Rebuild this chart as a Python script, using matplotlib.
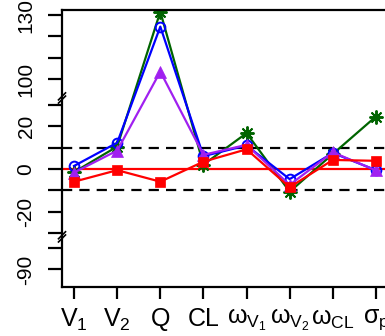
import numpy as np
import matplotlib
matplotlib.use("Agg")
import matplotlib.pyplot as plt
from matplotlib.lines import Line2D

plt.rcParams['font.family'] = ['Liberation Sans', 'DejaVu Sans']
plt.rcParams['mathtext.fontset'] = 'custom'
plt.rcParams['mathtext.rm'] = 'Liberation Sans'
plt.rcParams['mathtext.it'] = 'Liberation Sans'
plt.rcParams['mathtext.default'] = 'regular'

# Parameters on the x axis
params = [r'$V_1$', r'$V_2$', 'Q', 'CL', r'$\omega_{V_1}$', r'$\omega_{V_2}$',
          r'$\omega_{CL}$', r'$\sigma_p$']

# Relative bias (%) for each scenario
blue_vals = [1.4, 12.3, 124.6, 6.0, 11.0, -4.8, 7.5, -0.6]
green_vals = [-1.5, 10.5, 131.6, 2.0, 16.8, -10.7, 7.0, 24.6]
purple_vals = [-1.7, 8.6, 103.5, 6.6, 11.3, -7.5, 7.8, -0.7]
red_vals = [-6.0, -0.6, -6.0, 3.4, 9.2, -8.6, 4.2, 3.8]

tick_values = [130, 120, 110, 100, 30, 20, 10, 0, -10, -20, -30, -80, -90]
labelled = {130, 100, 20, 0, -20, -90}
ref_lines = [10, -10]

# Broken y axis: middle segment [-30, 30], upper segment from 100, lower from -80
UPPER_OFF = 42.2
LOWER_OFF = -37.2


def squash(v):
    v = np.asarray(v, dtype=float)
    out = v.copy()
    out[v >= 60] = v[v >= 60] - 100 + UPPER_OFF
    out[v <= -55] = v[v <= -55] + 80 + LOWER_OFF
    return out


W, H = 385, 336
fig = plt.figure(figsize=(W / 100, H / 100), dpi=100)
ax = fig.add_axes([62 / W, 49.3 / H, 326 / W, 276.7 / H])

x = np.arange(1, len(params) + 1)

ax.axhline(0, color='#FF0000', lw=1.6, zorder=1)
for r in ref_lines:
    ax.axhline(r, color='black', lw=1.6, ls=(0, (4.6, 3.2)), zorder=1)

ax.plot(x, squash(green_vals), color='#006400', lw=1.6, marker=(8, 2, 0),
        ms=10, mew=1.4, zorder=2)
ax.plot(x, squash(blue_vals), color='#0000FF', lw=1.6, marker='o', ms=7,
        mfc='none', mew=1.4, zorder=3)
ax.plot(x, squash(purple_vals), color='#A020F0', lw=1.6, marker='^', ms=8.5,
        mew=0.5, zorder=4)
ax.plot(x, squash(red_vals), color='#FF0000', lw=1.6, marker='s', ms=7,
        mew=0.5, zorder=5)

ax.set_xlim(0.72, 8.28)
ax.set_ylim(-55.3, 74.6)

ax.set_xticks(x)
ax.set_xticklabels(params, fontsize=18)
ax.set_yticks(squash(tick_values))
ax.set_yticklabels([str(v) if v in labelled else '' for v in tick_values],
                   rotation=90, va='center', fontsize=15)

ax.tick_params(axis='y', length=10, width=1.6, pad=9)
ax.tick_params(axis='x', length=8.5, width=1.6, pad=6)
for s in ax.spines.values():
    s.set_linewidth(1.6)

# Slash marks where the y axis is broken
axis_x = 62 / W
for t in (33.3, -31.9):
    yf = ax.transData.transform((1, t))[1] / H
    for dy in (-1.6, 1.6):
        fig.add_artist(Line2D([axis_x - 3.5 / W, axis_x + 3.5 / W],
                              [yf + (dy - 3.5) / H, yf + (dy + 3.5) / H],
                              color='black', lw=1.2))

fig.savefig('out.png', dpi=100)
